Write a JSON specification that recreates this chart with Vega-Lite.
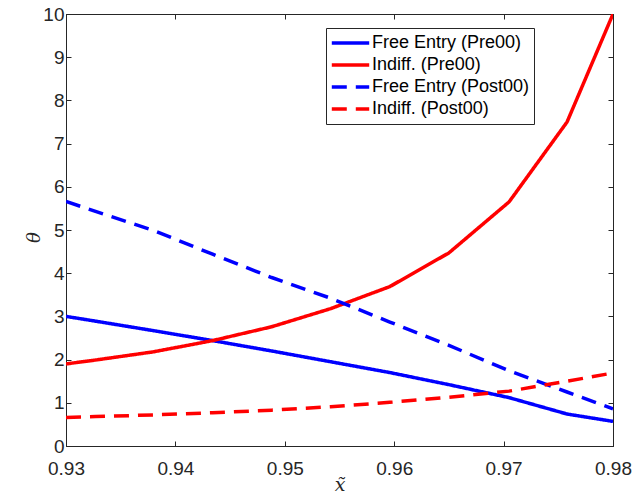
{
  "$schema": "https://vega.github.io/schema/vega-lite/v6.json",
  "width": 547,
  "height": 432,
  "autosize": "none",
  "padding": {"left": 66, "top": 14, "right": 19, "bottom": 49},
  "background": "white",
  "config": {
    "view": {"stroke": "#262626", "strokeWidth": 1},
    "font": "Liberation Sans",
    "axis": {"grid": false, "domainColor": "#262626", "tickColor": "#262626", "labelColor": "#262626", "labelFont": "Liberation Sans", "labelFontSize": 19, "tickSize": -5, "domain": true, "labelFlush": false, "labelOverlap": false}
  },
  "data": {"values": [
    {"x": 0.93, "y": 3.0, "s": "Free Entry (Pre00)"},
    {"x": 0.9327, "y": 2.89, "s": "Free Entry (Pre00)"},
    {"x": 0.938, "y": 2.67, "s": "Free Entry (Pre00)"},
    {"x": 0.9434, "y": 2.44, "s": "Free Entry (Pre00)"},
    {"x": 0.9488, "y": 2.2, "s": "Free Entry (Pre00)"},
    {"x": 0.9542, "y": 1.95, "s": "Free Entry (Pre00)"},
    {"x": 0.9596, "y": 1.7, "s": "Free Entry (Pre00)"},
    {"x": 0.965, "y": 1.42, "s": "Free Entry (Pre00)"},
    {"x": 0.9705, "y": 1.12, "s": "Free Entry (Pre00)"},
    {"x": 0.9758, "y": 0.74, "s": "Free Entry (Pre00)"},
    {"x": 0.98, "y": 0.57, "s": "Free Entry (Pre00)"},
    {"x": 0.93, "y": 1.9, "s": "Indiff. (Pre00)"},
    {"x": 0.9327, "y": 1.99, "s": "Indiff. (Pre00)"},
    {"x": 0.938, "y": 2.18, "s": "Indiff. (Pre00)"},
    {"x": 0.9434, "y": 2.44, "s": "Indiff. (Pre00)"},
    {"x": 0.9488, "y": 2.76, "s": "Indiff. (Pre00)"},
    {"x": 0.9542, "y": 3.18, "s": "Indiff. (Pre00)"},
    {"x": 0.9596, "y": 3.69, "s": "Indiff. (Pre00)"},
    {"x": 0.965, "y": 4.47, "s": "Indiff. (Pre00)"},
    {"x": 0.9705, "y": 5.65, "s": "Indiff. (Pre00)"},
    {"x": 0.9758, "y": 7.5, "s": "Indiff. (Pre00)"},
    {"x": 0.98, "y": 10.0, "s": "Indiff. (Pre00)"},
    {"x": 0.93, "y": 5.66, "s": "Free Entry (Post00)"},
    {"x": 0.9327, "y": 5.43, "s": "Free Entry (Post00)"},
    {"x": 0.938, "y": 4.99, "s": "Free Entry (Post00)"},
    {"x": 0.9434, "y": 4.44, "s": "Free Entry (Post00)"},
    {"x": 0.9488, "y": 3.9, "s": "Free Entry (Post00)"},
    {"x": 0.9542, "y": 3.42, "s": "Free Entry (Post00)"},
    {"x": 0.9596, "y": 2.87, "s": "Free Entry (Post00)"},
    {"x": 0.965, "y": 2.33, "s": "Free Entry (Post00)"},
    {"x": 0.9705, "y": 1.74, "s": "Free Entry (Post00)"},
    {"x": 0.9758, "y": 1.25, "s": "Free Entry (Post00)"},
    {"x": 0.98, "y": 0.86, "s": "Free Entry (Post00)"},
    {"x": 0.93, "y": 0.66, "s": "Indiff. (Post00)"},
    {"x": 0.9327, "y": 0.68, "s": "Indiff. (Post00)"},
    {"x": 0.938, "y": 0.72, "s": "Indiff. (Post00)"},
    {"x": 0.9434, "y": 0.77, "s": "Indiff. (Post00)"},
    {"x": 0.9488, "y": 0.83, "s": "Indiff. (Post00)"},
    {"x": 0.9542, "y": 0.91, "s": "Indiff. (Post00)"},
    {"x": 0.9596, "y": 1.01, "s": "Indiff. (Post00)"},
    {"x": 0.965, "y": 1.13, "s": "Indiff. (Post00)"},
    {"x": 0.9705, "y": 1.27, "s": "Indiff. (Post00)"},
    {"x": 0.9758, "y": 1.5, "s": "Indiff. (Post00)"},
    {"x": 0.98, "y": 1.69, "s": "Indiff. (Post00)"}
  ]},
  "layer": [
    {
      "mark": {"type": "line", "strokeWidth": 3.5, "clip": true},
      "encoding": {
        "x": {"field": "x", "type": "quantitative", "scale": {"domain": [0.93, 0.98], "nice": false, "zero": false},
          "axis": {"orient": "bottom", "values": [0.93, 0.94, 0.95, 0.96, 0.97, 0.98], "format": ".2f", "labelPadding": 18,
            "title": "x̃", "titleFont": "DejaVu Serif", "titleFontStyle": "italic", "titleFontWeight": "normal", "titleFontSize": 19, "titleColor": "#262626", "titleY": 38, "titleBaseline": "middle"}},
        "y": {"field": "y", "type": "quantitative", "scale": {"domain": [0, 10], "nice": false},
          "axis": {"orient": "left", "values": [0, 1, 2, 3, 4, 5, 6, 7, 8, 9, 10], "labelPadding": 7,
            "title": "θ", "titleFont": "DejaVu Serif", "titleFontStyle": "italic", "titleFontWeight": "normal", "titleFontSize": 18, "titleColor": "#262626", "titleX": -32, "titleY": 223, "titleAngle": 270, "titleBaseline": "middle", "titleAlign": "center"}},
        "color": {"field": "s", "type": "nominal",
          "scale": {"domain": ["Free Entry (Pre00)", "Indiff. (Pre00)", "Free Entry (Post00)", "Indiff. (Post00)"], "range": ["#0000ff", "#ff0000", "#0000ff", "#ff0000"]},
          "legend": {"title": null, "orient": "none", "legendX": 260, "legendY": 14, "symbolType": "stroke", "symbolSize": 1400, "symbolStrokeWidth": 3.5, "clipHeight": 22, "labelFontSize": 18, "labelFont": "Liberation Sans", "labelColor": "#000000", "labelOffset": 1, "strokeColor": "#262626", "padding": 4, "fillColor": "white", "rowPadding": 0, "symbolOffset": 0}},
        "strokeDash": {"field": "s", "type": "nominal",
          "scale": {"domain": ["Free Entry (Pre00)", "Indiff. (Pre00)", "Free Entry (Post00)", "Indiff. (Post00)"], "range": [[1, 0], [1, 0], [15, 9], [15, 9]]},
          "legend": null}
      }
    },
    {
      "mark": {"type": "line", "opacity": 0},
      "encoding": {
        "x": {"field": "x", "type": "quantitative", "axis": {"orient": "top", "values": [0.93, 0.94, 0.95, 0.96, 0.97, 0.98], "labels": false, "title": null}},
        "y": {"field": "y", "type": "quantitative", "axis": {"orient": "right", "values": [0, 1, 2, 3, 4, 5, 6, 7, 8, 9, 10], "labels": false, "title": null}},
        "detail": {"field": "s"}
      }
    }
  ]
}
